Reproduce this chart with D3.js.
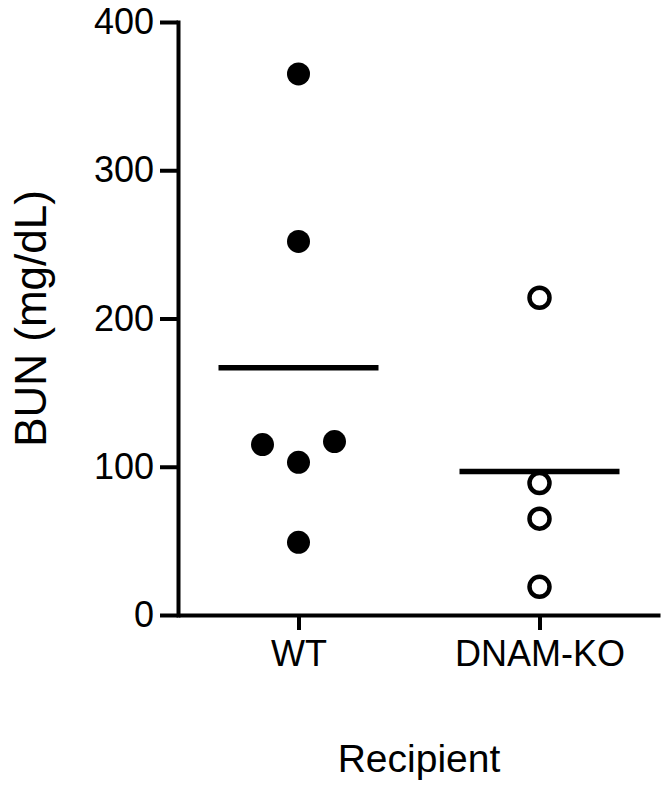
<!DOCTYPE html>
<html>
<head>
<meta charset="utf-8">
<script src="https://cdn.jsdelivr.net/npm/d3@7"></script>
<style>
  html, body { margin: 0; padding: 0; background: #fff; }
  svg { display: block; }
  text { font-family: "Liberation Sans", Arial, sans-serif; fill: #000; }
</style>
</head>
<body>
<script>
// ---- data ----
const categories = ["WT", "DNAM-KO"];
const wtValues = [365, 252, 115, 103, 117, 49];
const koValues = [214, 89, 65, 19];
const yTicks = [0, 100, 200, 300, 400];
const yLabel = "BUN (mg/dL)";
const xLabel = "Recipient";

// ---- layout ----
const W = 667, H = 796;
const mLeft = 178, mRight = 660, mTop = 22, mBottom = 615;
const svg = d3.select("body").append("svg").attr("width", W).attr("height", H);

const x = d3.scalePoint().domain(categories).range([mLeft, mRight]).padding(0.5);
const y = d3.scaleLinear().domain([0, 400]).range([mBottom, mTop]);

// y axis
const yAxis = d3.axisLeft(y).tickValues(yTicks).tickSize(18).tickSizeOuter(0).tickPadding(6);
const gy = svg.append("g").attr("transform", `translate(${mLeft},0)`).call(yAxis);
gy.select(".domain").attr("stroke", "#000").attr("stroke-width", 4).attr("stroke-linecap", "square");
gy.selectAll(".tick line").attr("stroke", "#000").attr("stroke-width", 4);
gy.selectAll(".tick text").style("font-size", "36px").attr("fill", "#000");

// x axis
const xAxis = d3.axisBottom(x).tickSize(15).tickSizeOuter(0).tickPadding(10);
const gx = svg.append("g").attr("transform", `translate(0,${mBottom})`).call(xAxis);
gx.select(".domain").attr("stroke", "#000").attr("stroke-width", 4);
gx.selectAll(".tick line").attr("stroke", "#000").attr("stroke-width", 4);
gx.selectAll(".tick text").style("font-size", "36px").attr("fill", "#000");

// labels
svg.append("text")
  .attr("transform", `translate(46,${(mTop + mBottom) / 2}) rotate(-90)`)
  .attr("text-anchor", "middle")
  .style("font-size", "44px")
  .text(yLabel);
svg.append("text")
  .attr("x", (mLeft + mRight) / 2).attr("y", 772)
  .attr("text-anchor", "middle")
  .style("font-size", "39px")
  .text(xLabel);

// jitter layout (beeswarm-like) to avoid overlap
const R = 11, STEP = 36;
function swarm(values) {
  const order = values.map((v, i) => i).sort((a, b) => values[a] - values[b]);
  const placed = [];
  const offs = new Array(values.length).fill(0);
  order.forEach(i => {
    const py = y(values[i]);
    const cands = [0, -STEP, STEP, -2 * STEP, 2 * STEP];
    for (const o of cands) {
      if (placed.every(p => Math.hypot(p.o - o, p.y - py) >= 2 * R + 2)) {
        offs[i] = o; placed.push({ o, y: py }); break;
      }
    }
  });
  return offs;
}

const groups = [
  { cat: "WT", values: wtValues, filled: true },
  { cat: "DNAM-KO", values: koValues, filled: false }
];

groups.forEach(g => {
  const cx = x(g.cat);
  const m = d3.mean(g.values);
  svg.append("line")
    .attr("x1", cx - 80).attr("x2", cx + 80)
    .attr("y1", y(m)).attr("y2", y(m))
    .attr("stroke", "#000").attr("stroke-width", 5.5);
  const offs = swarm(g.values);
  svg.append("g").selectAll("circle").data(g.values).join("circle")
    .attr("cx", (d, i) => cx + offs[i])
    .attr("cy", d => y(d))
    .attr("r", g.filled ? 11.5 : 10)
    .attr("fill", g.filled ? "#000" : "none")
    .attr("stroke", g.filled ? "none" : "#000")
    .attr("stroke-width", g.filled ? 0 : 4.5);
});
</script>
</body>
</html>
